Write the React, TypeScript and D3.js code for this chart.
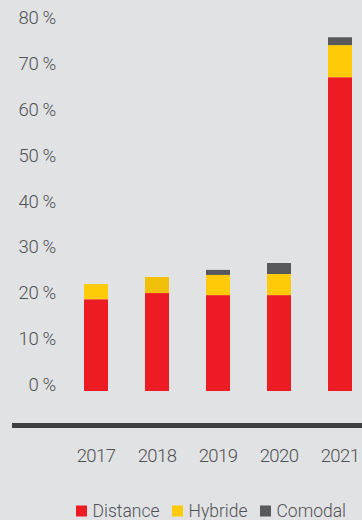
import React from "react";
import * as d3 from "d3";

const years = ["2017", "2018", "2019", "2020", "2021"];
const distance = [20.0, 21.35, 20.9, 20.9, 68.4];
const hybride = [3.3, 3.5, 4.4, 4.6, 7.0];
const comodal = [0, 0, 1.1, 2.4, 1.7];
const yTicks = [0, 10, 20, 30, 40, 50, 60, 70, 80];
const seriesNames = ["Distance", "Hybride", "Comodal"];
const seriesColors = ["#ED1C24", "#FFCB08", "#58595B"];

const W = 362;
const H = 520;
const FONT = "Roboto, 'Open Sans', sans-serif";
const TEXT = "#505153";

export default function App() {
  const y = d3.scaleLinear().domain([0, 80]).range([391, 24]);
  const x = d3
    .scaleBand<string>()
    .domain(years)
    .range([84, 352])
    .paddingInner(37 / 61)
    .paddingOuter(0);

  const table = years.map((yr, i) => ({
    year: yr,
    Distance: distance[i],
    Hybride: hybride[i],
    Comodal: comodal[i],
  }));
  const stacked = d3.stack<any>().keys(seriesNames)(table);

  return (
    <svg
      width={W}
      height={H}
      style={{ position: "absolute", left: 0, top: 0, background: "#E1E2E4" }}
    >
      <rect x={0} y={0} width={W} height={H} fill="#E1E2E4" />
      {yTicks.map((t) => (
        <text
          key={t}
          x={56}
          y={y(t)}
          textAnchor="end"
          fontFamily={FONT}
          fontWeight={300}
          fontSize={18.5}
          fill={TEXT}
          letterSpacing={-0.3}
        >
          {t} %
        </text>
      ))}
      {stacked.map((s, si) =>
        s.map((d, i) =>
          d[1] - d[0] > 0 ? (
            <rect
              key={si + "-" + i}
              x={x(years[i])}
              y={y(d[1])}
              width={x.bandwidth()}
              height={y(d[0]) - y(d[1])}
              fill={si === 1 && i === 1 ? "#F0C00A" : seriesColors[si]}
            />
          ) : null
        )
      )}
      <rect x={12} y={423} width={W - 12} height={5} fill="#3F3F41" />
      {years.map((yr) => (
        <text
          key={yr}
          x={(x(yr) as number) + x.bandwidth() / 2}
          y={461.5}
          textAnchor="middle"
          fontFamily={FONT}
          fontWeight={300}
          fontSize={18.5}
          fill={TEXT}
          letterSpacing={-0.6}
        >
          {yr}
        </text>
      ))}
      {seriesNames.map((n, i) => {
        const lx = [76, 172, 260][i];
        return (
          <g key={n}>
            <rect x={lx} y={505.5} width={11} height={11} fill={seriesColors[i]} />
            <text
              x={lx + 16.5}
              y={516.5}
              fontFamily={FONT}
              fontWeight={300}
              fontSize={17.5}
              fill={TEXT}
            >
              {n}
            </text>
          </g>
        );
      })}
    </svg>
  );
}
